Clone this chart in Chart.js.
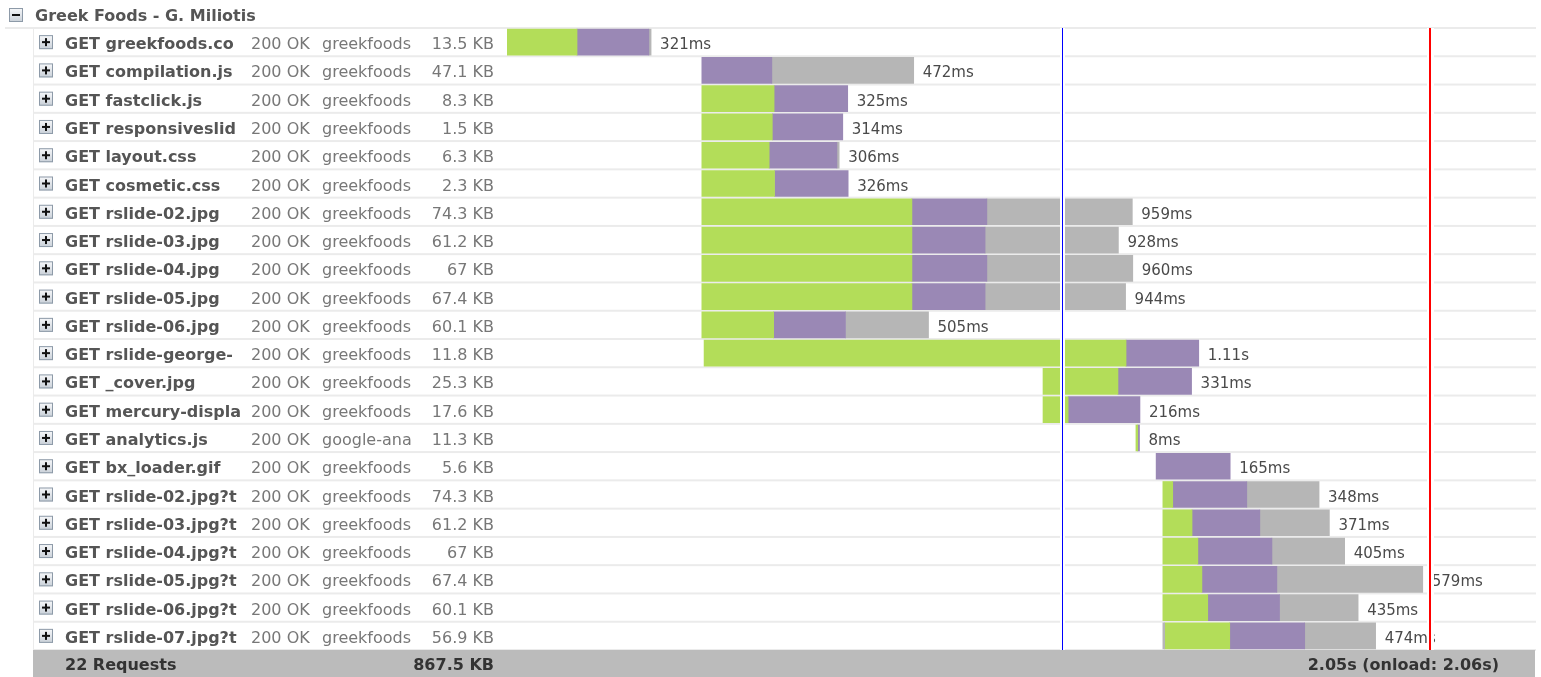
<!DOCTYPE html>
<html>
<head>
<meta charset="utf-8">
<title>Greek Foods - G. Miliotis</title>
<script src="https://cdn.jsdelivr.net/npm/chart.js@4.4.1/dist/chart.umd.min.js"></script>
<style>
  html, body { margin: 0; padding: 0; background: #fff; }
  canvas { display: block; }
</style>
</head>
<body>
<canvas id="waterfall" width="1541" height="677"></canvas>
<script>
// waterfall de rede (estilo Firebug)
const pageTitle = "Greek Foods - G. Miliotis";
const names = ["greekfoods.co", "compilation.js", "fastclick.js", "responsiveslid", "layout.css", "cosmetic.css",
  "rslide-02.jpg", "rslide-03.jpg", "rslide-04.jpg", "rslide-05.jpg", "rslide-06.jpg", "rslide-george-",
  "_cover.jpg", "mercury-displa", "analytics.js", "bx_loader.gif", "rslide-02.jpg?t", "rslide-03.jpg?t",
  "rslide-04.jpg?t", "rslide-05.jpg?t", "rslide-06.jpg?t", "rslide-07.jpg?t"];
const statuses = Array(22).fill("200 OK");
const domains = ["greekfoods", "greekfoods", "greekfoods", "greekfoods", "greekfoods", "greekfoods",
  "greekfoods", "greekfoods", "greekfoods", "greekfoods", "greekfoods", "greekfoods",
  "greekfoods", "greekfoods", "google-ana", "greekfoods", "greekfoods", "greekfoods",
  "greekfoods", "greekfoods", "greekfoods", "greekfoods"];
const sizes = ["13.5 KB", "47.1 KB", "8.3 KB", "1.5 KB", "6.3 KB", "2.3 KB", "74.3 KB", "61.2 KB", "67 KB",
  "67.4 KB", "60.1 KB", "11.8 KB", "25.3 KB", "17.6 KB", "11.3 KB", "5.6 KB", "74.3 KB", "61.2 KB",
  "67 KB", "67.4 KB", "60.1 KB", "56.9 KB"];

// tempos em ms
const startMs   = [0, 434, 434, 434, 434, 434, 434, 434, 434, 434, 434, 439, 1194, 1194, 1401, 1446, 1461, 1461, 1461, 1461, 1461, 1461];
const blockMs   = [0, 0, 0, 0, 0, 0, 0, 0, 0, 0, 0, 0, 0, 0, 0, 0, 0, 0, 0, 0, 0, 4];
const connectMs = [156, 0, 161, 157, 150, 162, 468, 468, 468, 468, 160, 940, 167, 56, 4, 0, 22, 65, 78, 87, 100, 145];
const waitMs    = [160, 156, 164, 157, 151, 164, 167, 163, 167, 163, 160, 162, 164, 160, 4, 165, 165, 151, 165, 167, 160, 167];
const receiveMs = [5, 316, 0, 0, 5, 0, 324, 297, 325, 313, 185, 0, 0, 0, 0, 0, 161, 155, 162, 325, 175, 158];
const timeLabels = ["321ms", "472ms", "325ms", "314ms", "306ms", "326ms", "959ms", "928ms", "960ms", "944ms",
  "505ms", "1.11s", "331ms", "216ms", "8ms", "165ms", "348ms", "371ms", "405ms", "579ms", "435ms", "474ms"];
const domReadyMs = 1236;
const onloadMs = 2056;
const footerTexts = ["22 Requests", "867.5 KB", "2.05s (onload: 2.06s)"];

const FONT = "'DejaVu Sans', Verdana, sans-serif";
const verde = "#b3dd59", roxo = "#9a88b5", cinza = "#b6b6b6";

// monta os intervalos [inicio, fim] de cada fase
function fase(offsets, durs) {
  return durs.map((d, i) => {
    const s = startMs[i] + offsets.reduce((a, arr) => a + arr[i], 0);
    return d > 0 ? [s, s + d] : null;
  });
}
const totalEnd = startMs.map((s, i) => s + blockMs[i] + connectMs[i] + waitMs[i] + receiveMs[i]);

function caixinha(ctx, x, y, menos) {
  const g = ctx.createLinearGradient(0, y, 0, y + 14);
  g.addColorStop(0, "#f7f8fa");
  g.addColorStop(1, "#c9d0d8");
  ctx.fillStyle = g;
  ctx.fillRect(x, y, 14, 14);
  ctx.strokeStyle = "#8d9aa8";
  ctx.lineWidth = 1;
  ctx.strokeRect(x + 0.5, y + 0.5, 13, 13);
  ctx.fillStyle = "#111";
  ctx.fillRect(x + 3, y + 6, 8, 2);
  if (!menos) ctx.fillRect(x + 6, y + 3, 2, 8);
}

const tabela = {
  id: "tabela",
  beforeDraw(chart) {
    const ctx = chart.ctx;
    const y = chart.scales.y;
    const area = chart.chartArea;
    const band = (area.bottom - area.top) / names.length;
    ctx.save();
    ctx.fillStyle = "#fff";
    ctx.fillRect(0, 0, chart.width, chart.height);

    // cabeçalho
    caixinha(ctx, 9, 8, true);
    ctx.fillStyle = "#555";
    ctx.font = "bold 16px " + FONT;
    ctx.textBaseline = "alphabetic";
    ctx.fillText(pageTitle, 35, 21);

    // linhas separadoras
    ctx.fillStyle = "#ebebeb";
    ctx.fillRect(5, area.top - 1, 1531, 2);
    for (let i = 1; i <= names.length; i++) {
      ctx.fillRect(33, area.top + i * band - 1, 1503, 2);
    }
    ctx.fillRect(33, area.top, 1, area.bottom - area.top);

    // colunas de texto
    names.forEach((n, i) => {
      const yc = y.getPixelForValue(i);
      const base = yc + 7;
      caixinha(ctx, 39, yc - 7, false);

      ctx.save();
      ctx.beginPath();
      ctx.rect(60, yc - 14, 182, 28);
      ctx.clip();
      ctx.fillStyle = "#555";
      ctx.font = "bold 16px " + FONT;
      ctx.textAlign = "left";
      ctx.fillText("GET " + n, 65, base);
      ctx.restore();

      ctx.fillStyle = "#777";
      ctx.font = "16px " + FONT;
      ctx.fillText(statuses[i], 251, base);

      ctx.save();
      ctx.beginPath();
      ctx.rect(318, yc - 14, 95, 28);
      ctx.clip();
      ctx.fillText(domains[i], 322, base);
      ctx.restore();

      ctx.textAlign = "right";
      ctx.fillText(sizes[i], 494, base);
      ctx.textAlign = "left";
    });
    ctx.restore();
  },
  afterDatasetsDraw(chart) {
    const ctx = chart.ctx;
    const x = chart.scales.x, y = chart.scales.y;
    const area = chart.chartArea;
    ctx.save();

    // rótulos de tempo
    ctx.fillStyle = "#4a4a4a";
    ctx.font = "15px " + FONT;
    ctx.textBaseline = "alphabetic";
    timeLabels.forEach((t, i) => {
      ctx.fillText(t, x.getPixelForValue(totalEnd[i]) + 9, y.getPixelForValue(i) + 7);
    });

    // DOMContentLoaded e onload
    const xb = Math.round(x.getPixelForValue(domReadyMs));
    ctx.fillStyle = "#fff";
    ctx.fillRect(xb - 2, area.top, 5, area.bottom - area.top);
    ctx.fillStyle = "#0000ff";
    ctx.fillRect(xb, area.top, 1, area.bottom - area.top);

    const xr = Math.round(x.getPixelForValue(onloadMs));
    ctx.fillStyle = "#fff";
    ctx.fillRect(xr - 3, area.top, 7, area.bottom - area.top);
    ctx.fillStyle = "#ff0000";
    ctx.fillRect(xr - 1, area.top, 2, area.bottom - area.top);

    // rodapé
    ctx.fillStyle = "#bbbbbb";
    ctx.fillRect(33, area.bottom, 1502, chart.height - area.bottom);
    ctx.fillStyle = "#333";
    ctx.font = "bold 16px " + FONT;
    ctx.fillText(footerTexts[0], 65, area.bottom + 20);
    ctx.textAlign = "right";
    ctx.fillText(footerTexts[1], 494, area.bottom + 20);
    ctx.fillText(footerTexts[2], 1499, area.bottom + 20);
    ctx.restore();
  }
};

const comum = { grouped: false, barThickness: 26, borderWidth: 0 };

new Chart(document.getElementById("waterfall"), {
  type: "bar",
  data: {
    labels: names,
    datasets: [
      { ...comum, label: "Blocking", backgroundColor: cinza, data: fase([], blockMs) },
      { ...comum, label: "Connecting", backgroundColor: verde, data: fase([blockMs], connectMs) },
      { ...comum, label: "Waiting", backgroundColor: roxo, data: fase([blockMs, connectMs], waitMs) },
      { ...comum, label: "Receiving", backgroundColor: cinza, data: fase([blockMs, connectMs, waitMs], receiveMs) }
    ]
  },
  options: {
    indexAxis: "y",
    responsive: false,
    animation: false,
    events: [],
    layout: { padding: { left: 507, right: 6, top: 28, bottom: 27 } },
    scales: {
      x: { type: "linear", min: 0, max: 2290, display: false },
      y: { type: "category", display: false }
    },
    plugins: { legend: { display: false }, tooltip: { enabled: false } }
  },
  plugins: [tabela]
});
</script>
</body>
</html>
